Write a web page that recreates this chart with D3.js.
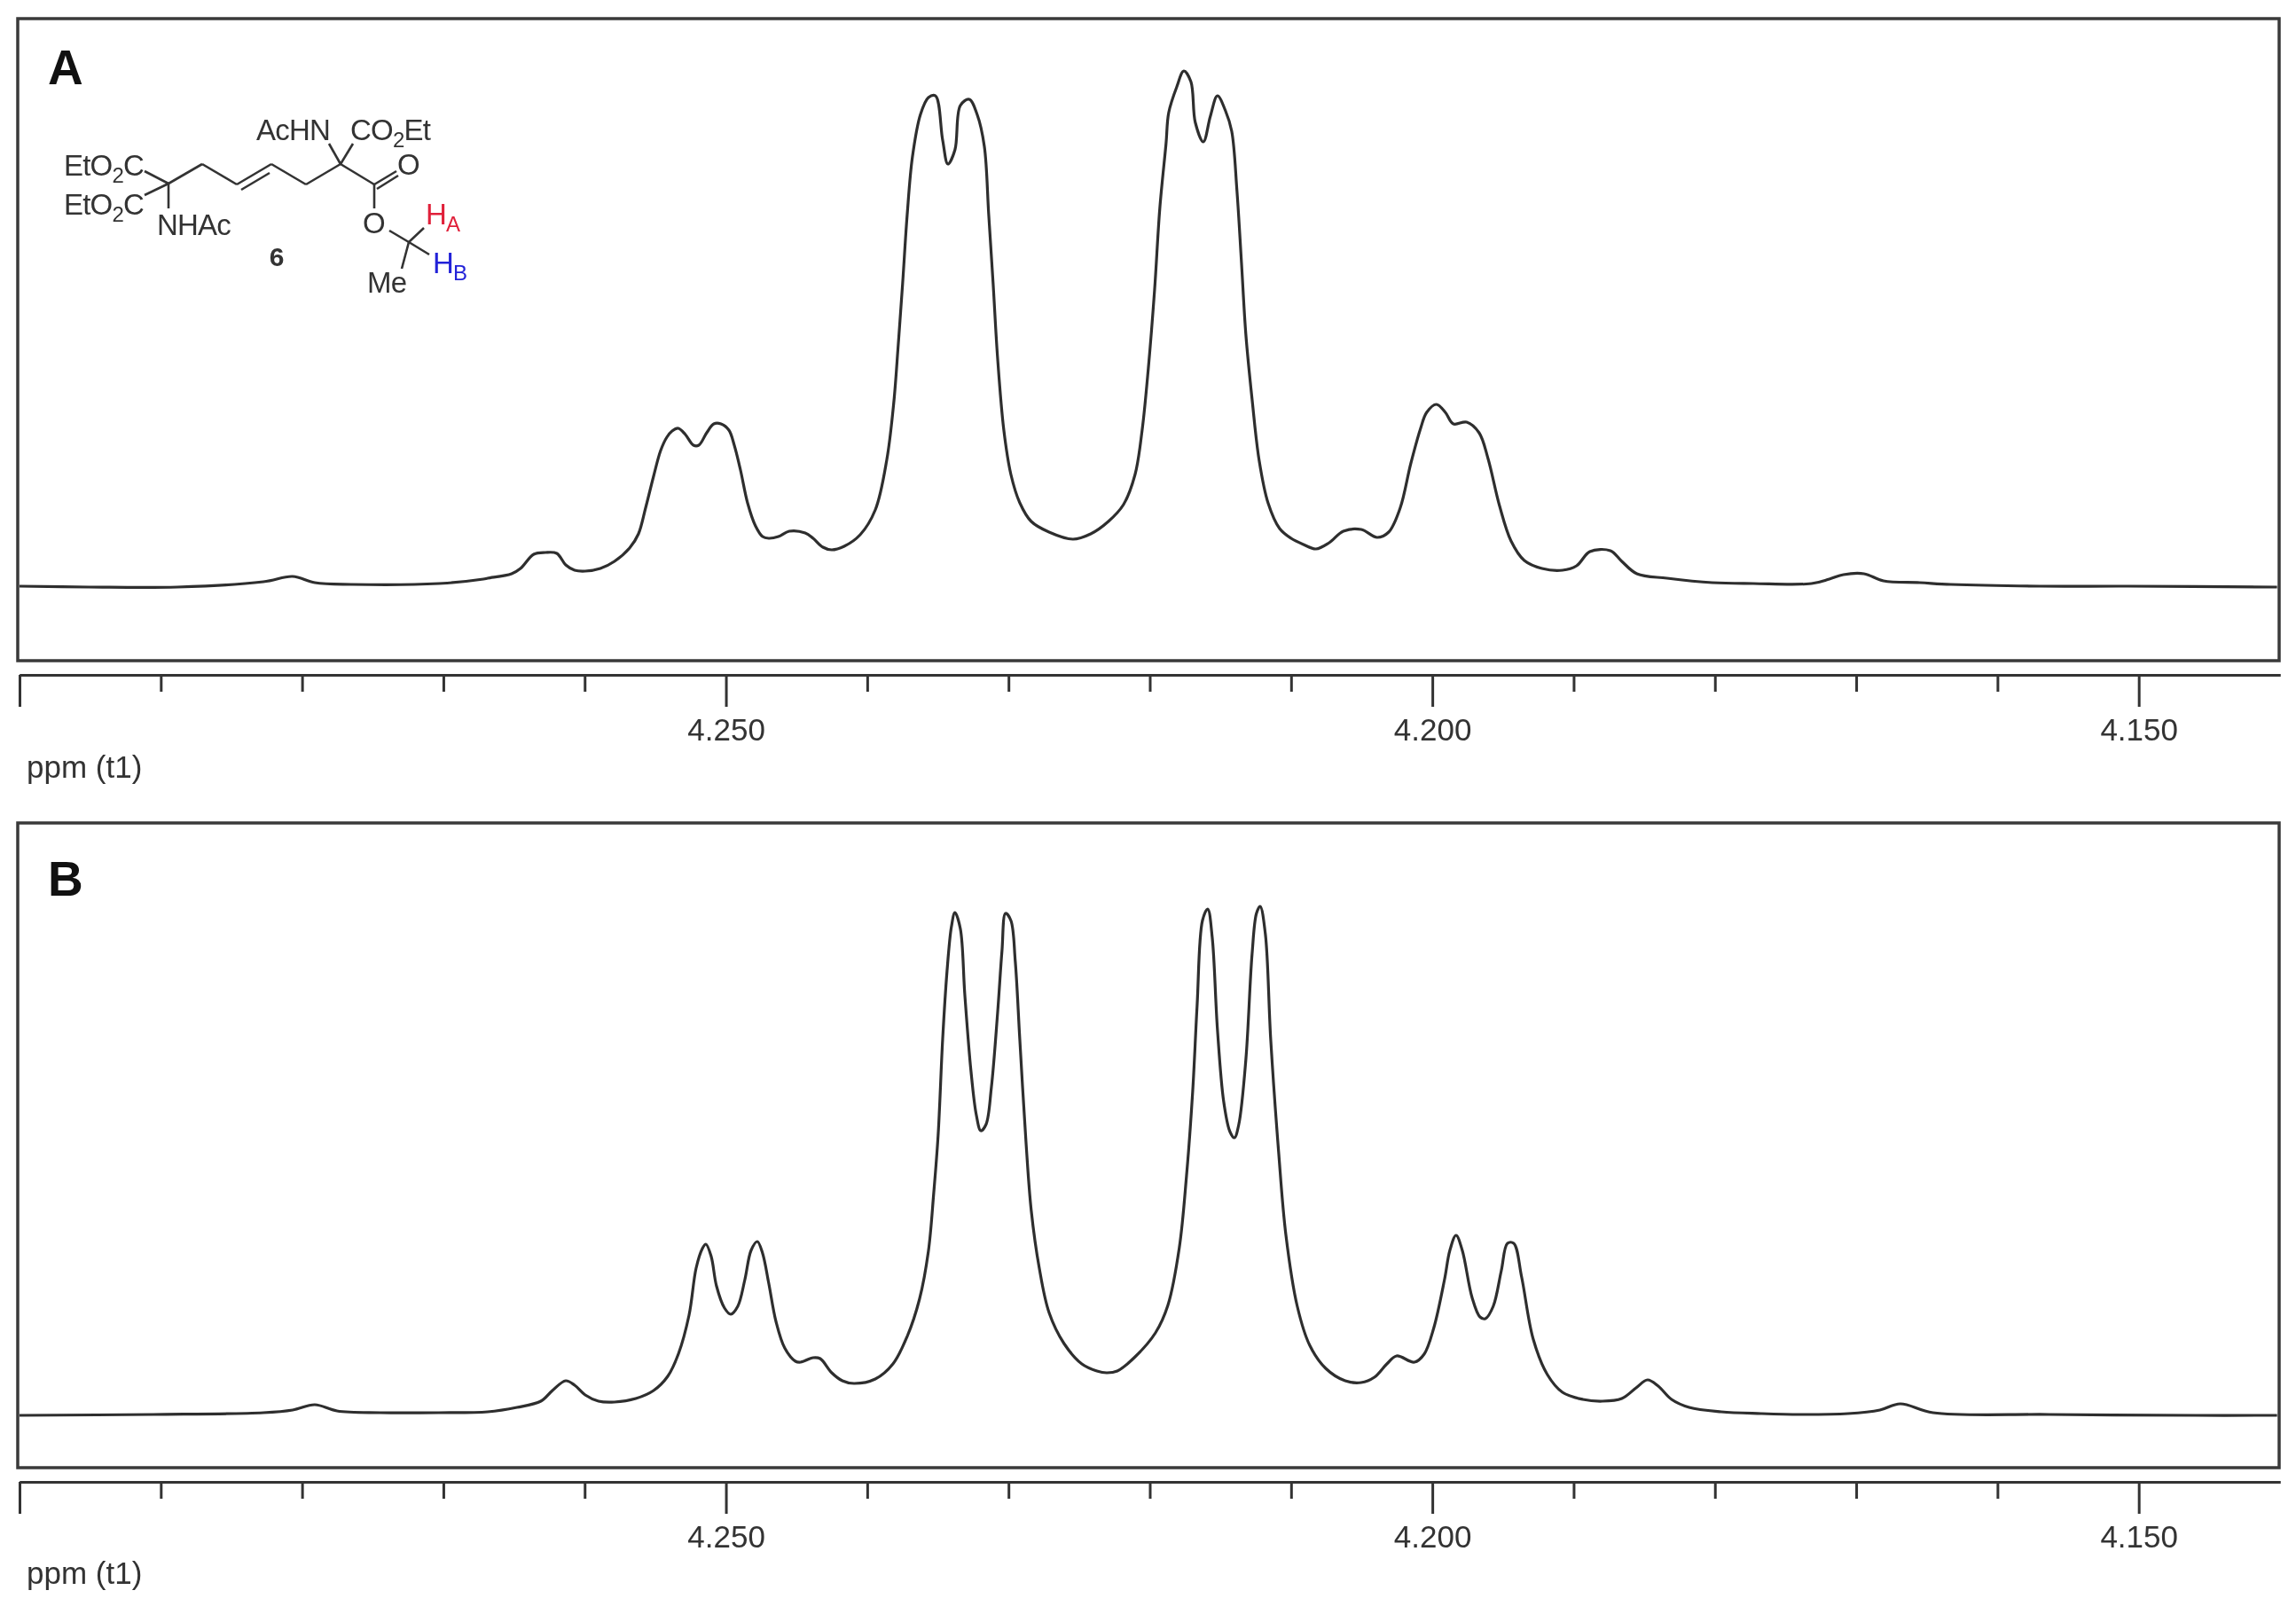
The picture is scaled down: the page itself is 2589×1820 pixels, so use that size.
<!DOCTYPE html>
<html>
<head>
<meta charset="utf-8">
<title>NMR spectra of compound 6</title>
<script src="https://cdn.jsdelivr.net/npm/d3@7"></script>
<style>
  html, body { margin: 0; padding: 0; background: #fff; }
  svg { display: block; filter: blur(0.7px); }
  text { font-family: "Liberation Sans", Arial, sans-serif; fill: #333; }
  .tick text { font-size: 35px; }
  .tick line, .domain { stroke: #333; stroke-width: 3px; }
  .frame { fill: none; stroke: #3a3a3a; stroke-width: 3.5px; }
  .spectrum { fill: none; stroke: #2e2e2e; stroke-width: 3.2px; stroke-linejoin: round; }
  .bond { stroke: #333; stroke-width: 2.6px; }
</style>
</head>
<body>
<div id="chart"></div>
<script>
// spectrum A (ppm, intensity in a.u.)
const ppmA = [
  4.30000, 4.29510, 4.28883, 4.28274, 4.28067, 4.27910, 4.27653, 4.27031, 4.26717, 4.26686,
  4.26517, 4.26454, 4.26360, 4.26278, 4.26197, 4.26134, 4.26071, 4.25996, 4.25889, 4.25789,
  4.25682, 4.25619, 4.25569, 4.25512, 4.25462, 4.25418, 4.25381, 4.25337, 4.25287, 4.25230,
  4.25192, 4.25136, 4.25086, 4.25035, 4.24979, 4.24941, 4.24897, 4.24847, 4.24791, 4.24741,
  4.24697, 4.24628, 4.24552, 4.24439, 4.24383, 4.24314, 4.24251, 4.24163, 4.24050, 4.23943,
  4.23862, 4.23812, 4.23780, 4.23749, 4.23717, 4.23680, 4.23623, 4.23567, 4.23517, 4.23466,
  4.23429, 4.23379, 4.23341, 4.23278, 4.23222, 4.23171, 4.23140, 4.23109, 4.23077, 4.23033,
  4.22983, 4.22920, 4.22839, 4.22713, 4.22544, 4.22418, 4.22293, 4.22186, 4.22104, 4.22054,
  4.22010, 4.21966, 4.21929, 4.21885, 4.21866, 4.21809, 4.21759, 4.21709, 4.21678, 4.21621,
  4.21571, 4.21521, 4.21464, 4.21420, 4.21383, 4.21351, 4.21320, 4.21276, 4.21226, 4.21163,
  4.21081, 4.21000, 4.20912, 4.20824, 4.20730, 4.20630, 4.20504, 4.20391, 4.20309, 4.20228,
  4.20153, 4.20083, 4.20040, 4.19971, 4.19908, 4.19851, 4.19757, 4.19669, 4.19606, 4.19525,
  4.19443, 4.19349, 4.19224, 4.19079, 4.18979, 4.18885, 4.18740, 4.18659, 4.18552, 4.18339,
  4.18019, 4.17730, 4.17316, 4.17190, 4.17090, 4.16945, 4.16807, 4.16550, 4.16330, 4.15703,
  4.15075, 4.14021
];
const intensityA = [
  0, -1, -1, 5, 11, 4, 2, 3, 8, 9,
  14, 20, 36, 38, 37, 24, 18, 17, 20, 28,
  43, 59, 88, 124, 153, 168, 175, 178, 171, 159,
  159, 173, 183, 183, 176, 159, 131, 94, 68, 56,
  54, 56, 62, 60, 54, 44, 41, 45, 58, 86,
  142, 207, 273, 342, 419, 484, 532, 551, 553, 503,
  476, 492, 542, 549, 532, 496, 419, 342, 257, 176,
  126, 94, 73, 61, 53, 59, 73, 92, 126, 176,
  246, 334, 426, 499, 534, 563, 581, 569, 523, 501,
  530, 553, 536, 513, 446, 365, 284, 211, 142, 94,
  65, 54, 47, 42, 49, 62, 64, 55, 61, 88,
  138, 178, 196, 205, 196, 183, 185, 173, 144, 91,
  51, 29, 20, 18, 23, 39, 40, 28, 14, 9,
  4, 3, 3, 8, 13, 14, 6, 4, 2, 0,
  0, -1
];

// spectrum B
const ppmB = [
  4.30000, 4.29052, 4.28274, 4.28067, 4.27910, 4.27753, 4.27446, 4.27031, 4.26686, 4.26479,
  4.26310, 4.26228, 4.26134, 4.26071, 4.25996, 4.25902, 4.25789, 4.25638, 4.25512, 4.25412,
  4.25337, 4.25261, 4.25211, 4.25167, 4.25142, 4.25104, 4.25067, 4.25010, 4.24966, 4.24916,
  4.24866, 4.24822, 4.24778, 4.24741, 4.24697, 4.24646, 4.24584, 4.24508, 4.24471, 4.24383,
  4.24333, 4.24251, 4.24176, 4.24094, 4.23943, 4.23818, 4.23717, 4.23630, 4.23567, 4.23529,
  4.23498, 4.23466, 4.23435, 4.23404, 4.23379, 4.23341, 4.23309, 4.23266, 4.23228, 4.23196,
  4.23159, 4.23121, 4.23077, 4.23046, 4.23021, 4.22983, 4.22952, 4.22920, 4.22876, 4.22839,
  4.22782, 4.22713, 4.22607, 4.22481, 4.22374, 4.22305, 4.22230, 4.22104, 4.21960, 4.21872,
  4.21791, 4.21740, 4.21696, 4.21665, 4.21627, 4.21590, 4.21558, 4.21521, 4.21477, 4.21433,
  4.21401, 4.21370, 4.21320, 4.21276, 4.21245, 4.21219, 4.21182, 4.21144, 4.21088, 4.21037,
  4.20956, 4.20868, 4.20755, 4.20617, 4.20504, 4.20410, 4.20322, 4.20253, 4.20127, 4.20058,
  4.19989, 4.19914, 4.19876, 4.19832, 4.19788, 4.19719, 4.19663, 4.19625, 4.19569, 4.19512,
  4.19468, 4.19424, 4.19368, 4.19286, 4.19186, 4.19079, 4.18935, 4.18797, 4.18659, 4.18558,
  4.18477, 4.18401, 4.18307, 4.18182, 4.17956, 4.17673, 4.17397, 4.17058, 4.16832, 4.16688,
  4.16456, 4.15634, 4.14598, 4.14021
];
const intensityB = [
  0, 1, 3, 6, 12, 5, 3, 3, 4, 9,
  16, 28, 39, 34, 23, 16, 15, 19, 28, 44,
  69, 113, 166, 188, 193, 179, 146, 121, 114, 123,
  153, 186, 196, 183, 149, 106, 76, 61, 60, 65,
  64, 48, 39, 36, 41, 58, 89, 131, 185, 251,
  316, 424, 501, 551, 567, 549, 474, 389, 339, 321,
  328, 370, 454, 524, 566, 558, 512, 424, 308, 231,
  166, 116, 81, 58, 50, 48, 50, 66, 93, 124,
  189, 270, 366, 462, 558, 571, 539, 435, 354, 320,
  313, 328, 401, 520, 566, 574, 543, 424, 297, 204,
  123, 79, 53, 39, 37, 43, 58, 67, 60, 69,
  99, 153, 186, 203, 186, 133, 111, 109, 123, 163,
  194, 194, 156, 86, 46, 26, 18, 16, 19, 31,
  40, 33, 18, 9, 4, 2, 1, 2, 6, 13,
  3, 1, 0, 0
];

// axis
const ppmRange = [4.30, 4.14];
const majorTicks = [4.30, 4.25, 4.20, 4.15];
const minorTicks = [4.29, 4.28, 4.27, 4.26, 4.24, 4.23, 4.22, 4.21, 4.19, 4.18, 4.17, 4.16];
const labelledTicks = [4.25, 4.20, 4.15];
const axisTitle = "ppm (t1)";

const width = 2589, height = 1820;
const plotLeft = 22, plotRight = 2571;

const svg = d3.select("#chart").append("svg")
  .attr("width", width)
  .attr("height", height)
  .attr("viewBox", `0 0 ${width} ${height}`);

svg.append("rect").attr("width", width).attr("height", height).attr("fill", "#fff");

const xScale = d3.scaleLinear().domain(ppmRange).range([plotLeft, plotRight]);

const panels = [
  { name: "A", ppm: ppmA, vals: intensityA, top: 21, bottom: 745, base: 661, maxY: 640, axisY: 761, titleY: 877, nameY: 95 },
  { name: "B", ppm: ppmB, vals: intensityB, top: 928, bottom: 1655, base: 1596, maxY: 668, axisY: 1671, titleY: 1786, nameY: 1010 }
];

panels.forEach(p => {
  const yScale = d3.scaleLinear().domain([0, p.maxY]).range([p.base, p.top]);

  // frame
  svg.append("rect")
    .attr("class", "frame")
    .attr("x", 20)
    .attr("y", p.top)
    .attr("width", 2550)
    .attr("height", p.bottom - p.top);

  // panel letter
  svg.append("text")
    .attr("x", 54)
    .attr("y", p.nameY)
    .attr("font-size", 55)
    .attr("font-weight", "bold")
    .style("fill", "#111")
    .text(p.name);

  // + LINE
  const line = d3.line()
    .x((d, i) => xScale(p.ppm[i]))
    .y(d => yScale(d))
    .curve(d3.curveCatmullRom.alpha(0.5));

  svg.append("path")
    .datum(p.vals)
    .attr("class", "spectrum")
    .attr("d", line);

  // + AXES
  const minorAxis = d3.axisBottom(xScale)
    .tickValues(minorTicks)
    .tickSize(19)
    .tickSizeOuter(0)
    .tickFormat("");
  svg.append("g")
    .attr("transform", `translate(0,${p.axisY})`)
    .call(minorAxis);

  const majorAxis = d3.axisBottom(xScale)
    .tickValues(majorTicks)
    .tickSize(36)
    .tickSizeOuter(0)
    .tickPadding(13)
    .tickFormat(d => labelledTicks.includes(d) ? d3.format(".3f")(d) : "");
  svg.append("g")
    .attr("transform", `translate(0,${p.axisY})`)
    .call(majorAxis);

  svg.append("text")
    .attr("x", 30)
    .attr("y", p.titleY)
    .attr("font-size", 35)
    .text(axisTitle);
});

// compound 6 inset
const bonds = [
  [163, 193, 190, 207], [163, 220, 190, 207], [190, 207, 190, 235],
  [190, 207, 228, 185], [228, 185, 267, 208], [267, 208, 306, 185],
  [272, 214, 304, 195], [306, 185, 345, 208], [345, 208, 384, 185],
  [384, 185, 371, 162], [384, 185, 398, 162], [384, 185, 422, 208],
  [422, 208, 447, 193], [425, 213, 449, 198], [422, 208, 422, 235],
  [439, 260, 461, 273], [461, 273, 478, 257], [461, 273, 484, 287],
  [461, 273, 453, 303]
];
svg.selectAll("line.bond")
  .data(bonds)
  .join("line")
  .attr("class", "bond")
  .attr("x1", d => d[0])
  .attr("y1", d => d[1])
  .attr("x2", d => d[2])
  .attr("y2", d => d[3]);

const labels = [
  { x: 72, y: 198, parts: ["EtO", "2", "C"] },
  { x: 72, y: 242, parts: ["EtO", "2", "C"] },
  { x: 177, y: 265, parts: ["NHAc"] },
  { x: 289, y: 158, parts: ["AcHN"] },
  { x: 395, y: 158, parts: ["CO", "2", "Et"] },
  { x: 448, y: 197, parts: ["O"] },
  { x: 409, y: 263, parts: ["O"] },
  { x: 414, y: 330, parts: ["Me"] },
  { x: 480, y: 253, parts: ["H", "A"], color: "#e0203a" },
  { x: 488, y: 308, parts: ["H", "B"], color: "#2222d8" }
];
labels.forEach(l => {
  const t = svg.append("text")
    .attr("x", l.x)
    .attr("y", l.y)
    .attr("font-size", 33)
    .style("letter-spacing", "-0.8px");
  if (l.color) t.style("fill", l.color);
  l.parts.forEach((s, i) => {
    const span = t.append("tspan").text(s);
    if (i === 1) span.attr("dy", 8).attr("font-size", 24);
    if (i === 2) span.attr("dy", -8);
    if (l.color) span.style("fill", l.color);
  });
});

svg.append("text")
  .attr("x", 312)
  .attr("y", 300)
  .attr("font-size", 30)
  .attr("font-weight", "bold")
  .attr("text-anchor", "middle")
  .text("6");
</script>
</body>
</html>
